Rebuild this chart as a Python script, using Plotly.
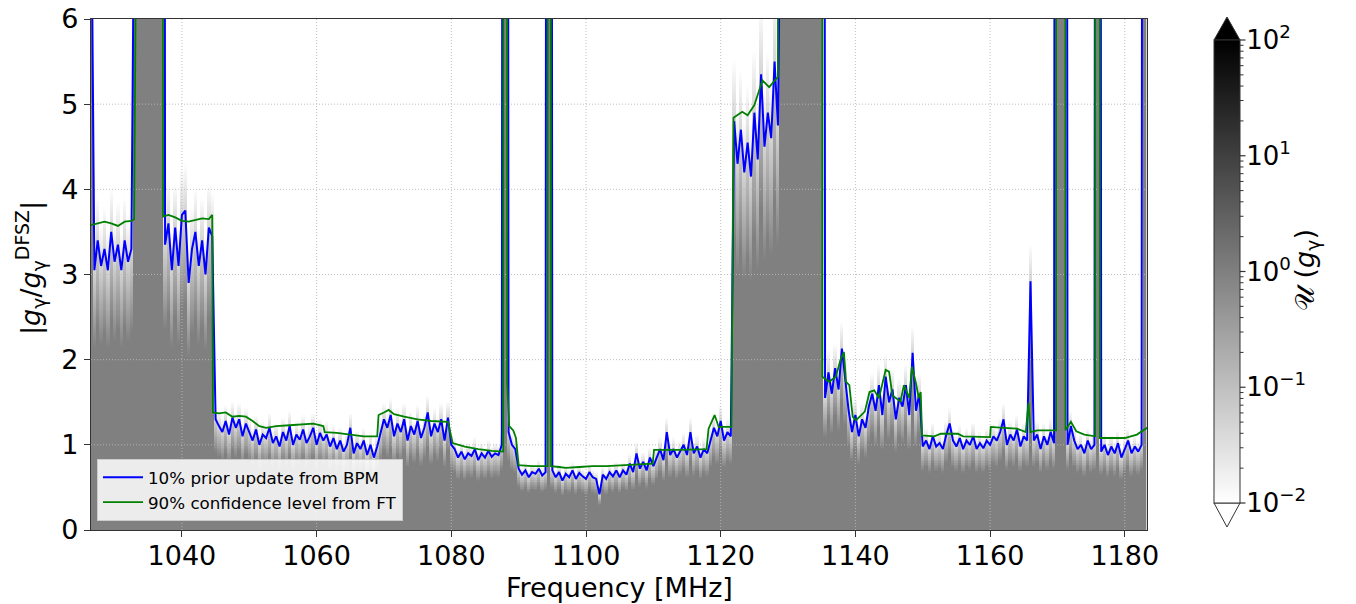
import numpy as np
import plotly.graph_objects as go

# ---------------- data ----------------
freq_start = 1026.5      # MHz, first frequency bin
freq_step = 0.5          # MHz, bin width

# 10% prior update from BPM, |g/g_DFSZ| per 0.5 MHz bin (50 = off the top of the chart)
blue_limit = [
    8.0, 3.05, 3.4, 3.1, 3.3, 3.05, 3.5, 3.15, 3.35, 3.05, 3.4, 3.15, 3.3,
    50, 50, 50, 50, 50, 50, 50, 50, 50,
    3.35, 3.6, 3.05, 3.55, 3.1, 3.7, 3.75, 2.9, 3.3, 3.5, 3.1, 3.4, 3.0, 3.55, 3.45,
    1.30, 1.22, 1.15, 1.28, 1.12, 1.32, 1.2, 1.3, 1.1, 1.25, 1.15,
    1.05, 1.18, 1.0, 1.12, 1.08, 1.2, 1.02, 1.1, 0.98, 1.15, 1.05, 1.22,
    1.0, 1.12, 1.06, 1.18, 1.02, 1.1, 1.2, 1.0, 1.14, 1.05, 1.12, 0.98,
    1.08, 0.95, 1.05, 0.92, 1.0, 1.2, 0.9, 1.02, 0.95, 1.05, 0.88, 1.0, 0.85, 0.98,
    1.15, 1.3, 1.2, 1.35, 1.1, 1.25, 1.15, 1.3, 1.05, 1.22, 1.12,
    1.28, 1.08, 1.2, 1.38, 1.1, 1.25, 1.15, 1.3, 1.05, 1.32, 1.0,
    0.95, 0.85, 0.92, 0.83, 0.9, 0.87, 0.95, 0.82, 0.9, 0.85, 0.93, 0.86, 0.9, 0.88, 1.0,
    50, 1.15, 1.0, 0.95, 0.72,
    0.65, 0.7, 0.62, 0.68, 0.66, 0.72, 0.64, 0.68,
    50, 0.7,
    0.62, 0.68, 0.58, 0.66, 0.62, 0.7, 0.6, 0.67, 0.63, 0.6,
    0.68, 0.62, 0.6, 0.42, 0.65, 0.6, 0.68, 0.63, 0.7, 0.62,
    0.7, 0.65, 0.78, 0.68, 0.9, 0.72, 0.8, 0.7, 0.85, 0.75,
    0.85, 0.95, 0.82, 1.15, 0.88, 0.95, 0.85, 0.92, 1.0, 0.88, 1.15, 0.9, 0.98, 0.85, 0.95, 0.9,
    1.05, 1.2, 1.1, 1.28, 1.05, 1.15, 1.1,
    4.8, 4.3, 4.7, 4.2, 4.55, 4.15, 4.9, 4.35, 5.35, 4.5, 4.9, 4.6, 5.5, 4.75,
    50, 50, 50, 50, 50, 50, 50, 50, 50, 50, 50, 50, 50,
    1.55, 1.85, 1.6, 1.9, 1.65, 2.13, 1.75, 1.4,
    1.15, 1.35, 1.1, 1.3, 1.2, 1.45,
    1.6, 1.4, 1.7, 1.35, 1.8, 1.5, 1.65, 1.3, 1.55, 1.45, 1.7, 1.35, 2.08, 1.4, 1.6,
    0.98, 1.05, 0.95, 1.1, 0.98, 1.02, 0.95, 1.12, 1.25, 1.05, 0.98,
    1.08, 0.95, 1.05, 1.0, 1.1, 0.95, 1.02, 0.96, 1.05, 1.0,
    1.1, 1.05, 1.15, 1.3, 1.0, 1.12, 1.05, 1.18, 0.98, 1.1, 1.05,
    2.92,
    1.05, 1.12, 0.95, 1.1, 1.0, 1.15, 1.02,
    50, 50, 50,
    1.0, 1.22, 1.05, 0.95, 1.0, 0.9, 1.05, 0.95, 1.0,
    50,
    0.92, 1.0, 0.88, 0.98, 0.9, 1.02, 0.85, 0.95, 1.05, 0.9, 0.98, 0.92, 1.0,
    50,
]

# 90% confidence level from FT (breakpoints)
green_freq = [
    1026.5, 1027.5, 1028.5, 1029.5, 1030.5, 1031.5, 1032.5, 1032.9, 1033.0, 1037.1,
    1037.2, 1038.0, 1039.0, 1040.0, 1041.0, 1042.0, 1043.0, 1044.0, 1044.5, 1044.6,
    1045.5, 1046.5, 1047.5, 1048.5, 1049.5, 1050.5, 1051.5, 1052.5, 1054.0, 1056.0,
    1058.0, 1059.5, 1061.0, 1061.2, 1063.0, 1065.0, 1067.0, 1069.0, 1069.2, 1070.0,
    1070.7, 1071.5, 1073.0, 1075.0, 1077.0, 1079.5, 1080.2, 1082.0, 1084.0, 1086.0,
    1087.7, 1087.9, 1088.1, 1088.3, 1088.6, 1089.2, 1089.6, 1090.0, 1092.0, 1094.3,
    1094.4, 1094.6, 1094.8, 1096.0, 1097.0, 1099.0, 1101.0, 1103.0, 1105.0, 1107.0,
    1109.9, 1110.1, 1114.0, 1117.9, 1118.2, 1119.1, 1119.7, 1121.6, 1121.9, 1123.2,
    1124.0, 1125.0, 1126.2, 1127.2, 1128.5, 1128.8, 1135.0, 1135.1, 1136.1, 1137.1,
    1137.8, 1138.3, 1138.6, 1139.1, 1139.6, 1140.1, 1141.4, 1142.1, 1142.8, 1143.5,
    1144.5, 1145.0, 1145.5, 1146.7, 1147.2, 1148.0, 1148.4, 1149.0, 1149.4, 1149.7,
    1149.9, 1151.7, 1152.7, 1155.2, 1156.0, 1160.0, 1160.1, 1162.0, 1164.0, 1165.3,
    1165.7, 1166.0, 1167.0, 1169.8, 1169.9, 1171.0, 1171.2, 1172.0, 1172.8, 1174.0,
    1175.6, 1175.7, 1176.2, 1176.3, 1178.0, 1180.0, 1181.8, 1182.8, 1183.3,
]
green_limit = [
    3.58, 3.60, 3.62, 3.60, 3.57, 3.62, 3.63, 3.65, 50, 50,
    3.68, 3.70, 3.67, 3.63, 3.62, 3.64, 3.66, 3.65, 3.70, 1.38,
    1.37, 1.38, 1.33, 1.34, 1.33, 1.28, 1.22, 1.20, 1.22, 1.23,
    1.24, 1.25, 1.22, 1.15, 1.14, 1.12, 1.10, 1.10, 1.35, 1.38,
    1.41, 1.36, 1.33, 1.30, 1.28, 1.27, 1.02, 0.98, 0.95, 0.93,
    0.92, 50, 50, 1.72, 1.22, 1.17, 1.08, 0.76, 0.75, 0.75,
    50, 50, 0.75, 0.74, 0.73, 0.74, 0.75, 0.75, 0.76, 0.77,
    0.78, 0.94, 0.94, 0.95, 1.19, 1.35, 1.21, 1.21, 4.84, 4.91,
    4.87, 4.99, 5.28, 5.20, 5.32, 50, 50, 1.80, 1.74, 1.80,
    2.00, 2.09, 1.74, 1.70, 1.33, 1.29, 1.39, 1.62, 1.64, 1.55,
    1.88, 1.86, 1.58, 1.51, 1.70, 1.55, 1.92, 1.72, 1.55, 1.62,
    1.11, 1.10, 1.13, 1.13, 1.10, 1.09, 1.21, 1.20, 1.19, 1.15,
    1.49, 1.15, 1.17, 1.17, 50, 50, 1.17, 1.27, 1.16, 1.12,
    1.10, 50, 50, 1.08, 1.08, 1.08, 1.12, 1.17, 1.20,
]

x_ticks = [1040, 1060, 1080, 1100, 1120, 1140, 1160, 1180]
y_ticks = [0, 1, 2, 3, 4, 5, 6]
cbar_exponents = [-2, -1, 0, 1, 2]
x_range = [1026.5, 1183.3]
y_range = [0, 6]

# ---------------- derived tables ----------------
freq = freq_start + freq_step * np.arange(len(blue_limit))
blue = np.array(blue_limit, dtype=float)

y_grid = np.arange(0, 6.0001, 0.02)
Y = y_grid[:, None]
B = blue[None, :]
lo, hi = 0.7 * B, 1.15 * B
t = np.clip((Y - lo) / (hi - lo), 0, 1)
zlog = -2.0 * t                # log10 of U(g): 1 well below the limit, fading to 1e-2 above
zlog = np.where(t >= 1, np.nan, zlog)

# ---------------- figure ----------------
W, H = 1356, 604
L, R, T, Bm = 91, 209, 19, 74
PW, PH = W - L - R, H - T - Bm
FONT = "DejaVu Sans"
FS = 27
CB_X0, CB_X1, CB_TOP, CB_BOT = 1214, 1240, 40, 503


def px_x(px):
    return (px - L) / PW


def px_y(py):
    return (H - Bm - py) / PH


fig = go.Figure()

fig.add_trace(go.Heatmap(
    x=freq, y=y_grid, z=zlog, zmin=-2, zmax=2,
    colorscale=[[0, "#ffffff"], [1, "#000000"]],
    showscale=True, hoverinfo="skip",
    colorbar=dict(
        x=px_x(CB_X0), xanchor="left", xref="paper",
        y=px_y((CB_TOP + CB_BOT) / 2), yanchor="middle", yref="paper",
        thickness=CB_X1 - CB_X0, thicknessmode="pixels",
        len=CB_BOT - CB_TOP, lenmode="pixels", xpad=0, ypad=0,
        outlinewidth=1, outlinecolor="#333333",
        tickvals=cbar_exponents,
        ticktext=["10<sup>%s</sup>" % (("−%d" % -e) if e < 0 else "%d" % e) for e in cbar_exponents],
        ticks="", ticklabelposition="outside",
        tickfont=dict(family=FONT, size=FS - 1, color="black"),
    ),
))

# grid lines (above the heatmap, below the curves)
gx, gy = [], []
for xv in x_ticks:
    gx += [xv, xv, None]
    gy += [y_range[0], y_range[1], None]
for yv in y_ticks[1:-1]:
    gx += [x_range[0], x_range[1], None]
    gy += [yv, yv, None]
fig.add_trace(go.Scatter(x=gx, y=gy, mode="lines", showlegend=False, hoverinfo="skip",
                         line=dict(color="#b8b8b8", width=0.9, dash="1px,2px")))

fig.add_trace(go.Scatter(x=freq, y=blue, mode="lines", name="10% prior update from BPM",
                         line=dict(color="#0000ff", width=2)))
fig.add_trace(go.Scatter(x=green_freq, y=green_limit, mode="lines",
                         name="90% confidence level from FT",
                         line=dict(color="#008000", width=1.8)))

shapes = []
# colorbar extension triangles
x0c, x1c, xm = px_x(CB_X0), px_x(CB_X1), px_x((CB_X0 + CB_X1) / 2)
shapes.append(dict(type="path", xref="paper", yref="paper",
                   path=f"M {x0c},{px_y(CB_TOP)} L {x1c},{px_y(CB_TOP)} L {xm},{px_y(17)} Z",
                   fillcolor="black", line=dict(color="#333333", width=1)))
shapes.append(dict(type="path", xref="paper", yref="paper",
                   path=f"M {x0c},{px_y(CB_BOT)} L {x1c},{px_y(CB_BOT)} L {xm},{px_y(527)} Z",
                   fillcolor="white", line=dict(color="#333333", width=1)))


def cb_py(v):
    return CB_BOT - (v + 2) / 4 * (CB_BOT - CB_TOP)


# colorbar ticks (major and minor)
for d in cbar_exponents:
    shapes.append(dict(type="line", xref="paper", yref="paper",
                       x0=px_x(CB_X1), x1=px_x(CB_X1 + 5.5), y0=px_y(cb_py(d)), y1=px_y(cb_py(d)),
                       line=dict(color="#333333", width=1.2)))
for d in cbar_exponents[:-1]:
    for k in range(2, 10):
        v = d + np.log10(k)
        shapes.append(dict(type="line", xref="paper", yref="paper",
                           x0=px_x(CB_X1), x1=px_x(CB_X1 + 3.5), y0=px_y(cb_py(v)), y1=px_y(cb_py(v)),
                           line=dict(color="#333333", width=1)))

annotations = [
    dict(text="|<i>g</i><sub>γ</sub>/<i>g</i><sub>γ</sub><sup>DFSZ</sup>|",
         xref="paper", yref="paper", x=px_x(30), y=px_y(268), textangle=-90,
         showarrow=False, xanchor="center", yanchor="middle",
         font=dict(family=FONT, size=FS, color="black")),
    dict(text="Frequency [MHz]", xref="paper", yref="paper", x=0.5, y=px_y(588),
         showarrow=False, xanchor="center", yanchor="middle",
         font=dict(family=FONT, size=FS, color="black")),
    dict(text="𝒰 (<i>g</i><sub>γ</sub>)", xref="paper", yref="paper",
         x=px_x(1306), y=px_y(270), textangle=-90, showarrow=False,
         xanchor="center", yanchor="middle",
         font=dict(family=FONT, size=FS, color="black")),
]

axis_common = dict(showline=True, mirror=True, linecolor="#333333", linewidth=1.2,
                   ticks="outside", ticklen=6, tickwidth=1.2, tickcolor="#333333",
                   showgrid=False, zeroline=False,
                   tickfont=dict(family=FONT, size=FS, color="black"))

fig.update_layout(
    width=W, height=H,
    margin=dict(l=L, r=R, t=T, b=Bm, autoexpand=False),
    paper_bgcolor="white", plot_bgcolor="white",
    font=dict(family=FONT, size=16, color="black"),
    xaxis=dict(range=x_range, tickvals=x_ticks, ticklabelstandoff=-5, **axis_common),
    yaxis=dict(range=y_range, tickvals=y_ticks, **axis_common),
    showlegend=True,
    legend=dict(x=px_x(97), y=px_y(521), xanchor="left", yanchor="bottom",
                bgcolor="rgba(255,255,255,0.85)", bordercolor="#cccccc", borderwidth=1,
                font=dict(family=FONT, size=16.7, color="black"), itemwidth=40),
    shapes=shapes,
    annotations=annotations,
)

fig.write_html("out.html")
